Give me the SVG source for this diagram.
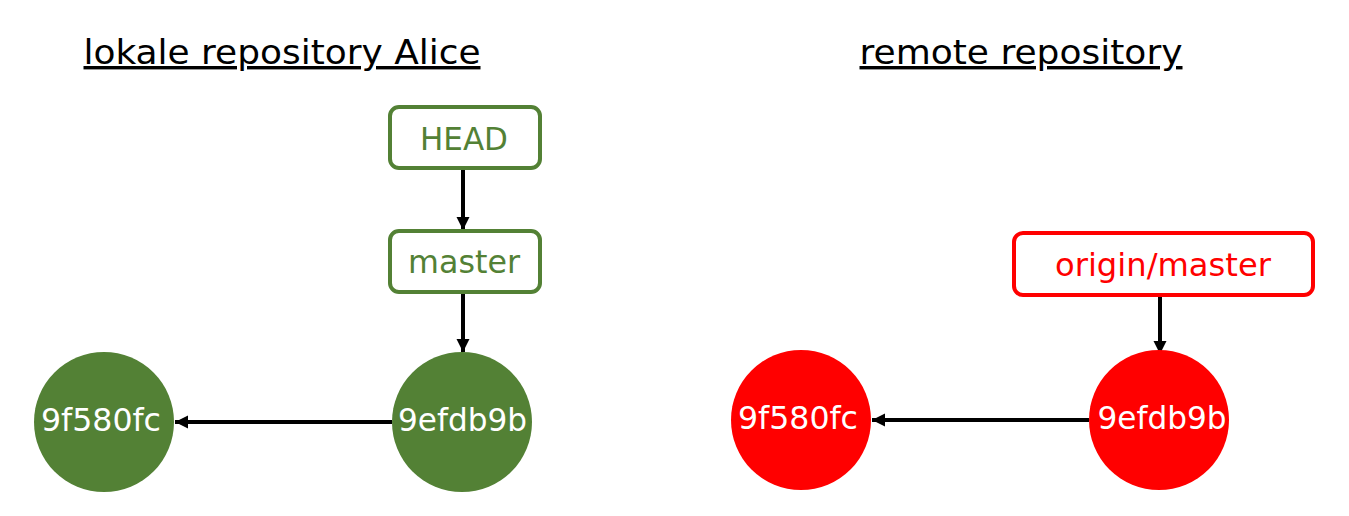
<svg xmlns="http://www.w3.org/2000/svg" width="1349" height="516" viewBox="0 0 1349 516">
<defs>
<style>
text{font-family:"DejaVu Sans","Verdana",sans-serif;text-anchor:middle}
.title{font-size:34px;fill:#000;text-decoration:underline}
.gbox{fill:#fff;stroke:#538135;stroke-width:4}
.rbox{fill:#fff;stroke:#ff0000;stroke-width:4}
.gt{fill:#538135;font-size:31.5px}
.rt{fill:#ff0000;font-size:31.5px}
.ct{fill:#fff;font-size:31.5px}
.conn{stroke:#000;stroke-width:4;fill:none;marker-end:url(#ah)}
</style>
<marker id="ah" viewBox="0 0 10 10" refX="10" refY="5" markerWidth="3.3" markerHeight="3.3" orient="auto" markerUnits="strokeWidth">
<path d="M0,0 L10,5 L0,10 z" fill="#000"/>
</marker>
</defs>
<rect width="1349" height="516" fill="#fff"/>
<g id="titles">
<text class="title" x="282" y="64" textLength="397" lengthAdjust="spacingAndGlyphs">lokale repository Alice</text>
<text class="title" x="1021" y="64" textLength="323" lengthAdjust="spacingAndGlyphs">remote repository</text>
</g>
<g id="connectors">
<line class="conn" x1="463" y1="169" x2="463" y2="230"/>
<line class="conn" x1="463" y1="293" x2="463" y2="352"/>
<line class="conn" x1="392" y1="422" x2="175" y2="422"/>
<line class="conn" x1="1160" y1="296" x2="1160" y2="354"/>
<line class="conn" x1="1089" y1="420" x2="872" y2="420"/>
</g>
<g id="head">
<rect class="gbox" x="390" y="107" width="150" height="61" rx="9"/>
<text class="gt" x="464" y="150" textLength="88" lengthAdjust="spacingAndGlyphs">HEAD</text>
</g>
<g id="master">
<rect class="gbox" x="390" y="231" width="150" height="61" rx="9"/>
<text class="gt" x="464" y="273" textLength="112" lengthAdjust="spacingAndGlyphs">master</text>
</g>
<g id="local-9efdb9b">
<circle cx="462" cy="422" r="70" fill="#538135"/>
<text class="ct" x="462.5" y="431" textLength="129" lengthAdjust="spacingAndGlyphs">9efdb9b</text>
</g>
<g id="local-9f580fc">
<circle cx="104" cy="422" r="70" fill="#538135"/>
<text class="ct" x="101" y="431" textLength="120" lengthAdjust="spacingAndGlyphs">9f580fc</text>
</g>
<g id="origin-master">
<rect class="rbox" x="1014" y="233" width="299" height="62" rx="9"/>
<text class="rt" x="1163" y="276" textLength="216" lengthAdjust="spacingAndGlyphs">origin/master</text>
</g>
<g id="remote-9efdb9b">
<circle cx="1159" cy="420" r="70" fill="#ff0000"/>
<text class="ct" x="1162" y="429" textLength="129" lengthAdjust="spacingAndGlyphs">9efdb9b</text>
</g>
<g id="remote-9f580fc">
<circle cx="801" cy="420" r="70" fill="#ff0000"/>
<text class="ct" x="798" y="429" textLength="120" lengthAdjust="spacingAndGlyphs">9f580fc</text>
</g>
</svg>
